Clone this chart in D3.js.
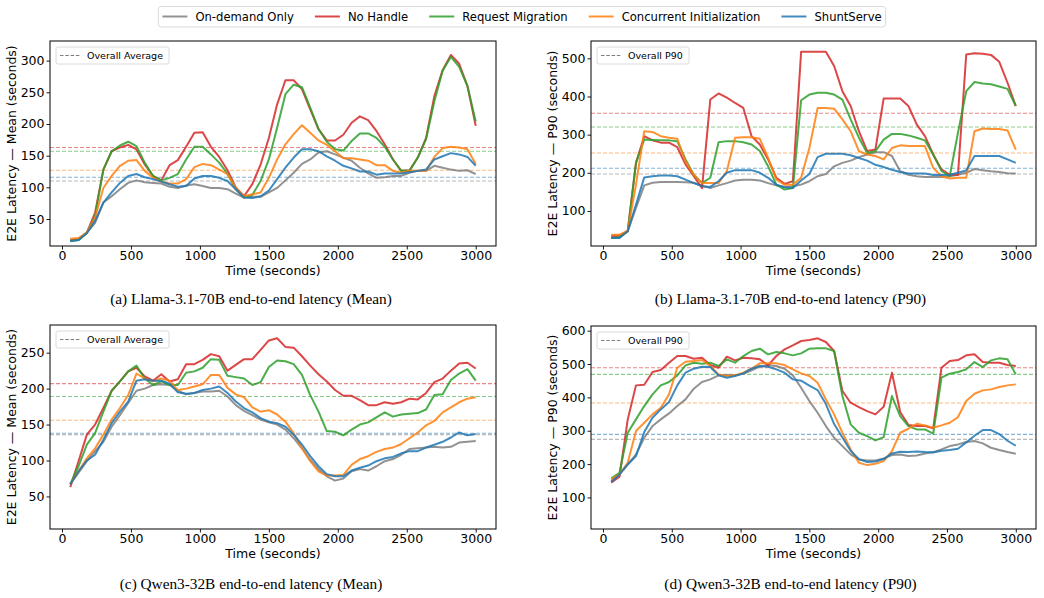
<!DOCTYPE html>
<html>
<head>
<meta charset="utf-8">
<script src="https://cdn.jsdelivr.net/npm/d3@7"></script>
<style>
  body { margin: 0; background: #fff; }
  svg { display: block; }
</style>
</head>
<body>
<div id="chart"></div>
<script>
// -------------------- Data --------------------
const times = [60, 120, 180, 240, 300, 360, 420, 480, 540, 600, 660, 720, 780, 840, 900, 960, 1020, 1080, 1140, 1200,
  1260, 1320, 1380, 1440, 1500, 1560, 1620, 1680, 1740, 1800, 1860, 1920, 1980, 2040, 2100, 2160, 2220, 2280, 2340, 2400,
  2460, 2520, 2580, 2640, 2700, 2760, 2820, 2880, 2940, 3000];

const seriesNames = ["On-demand Only", "No Handle", "Request Migration", "Concurrent Initialization", "ShuntServe"];
const seriesColors = ["#7f7f7f", "#d62728", "#2ca02c", "#ff7f0e", "#1f77b4"];

// (a) Llama-3.1-70B mean
const llamaMeanOnDemand = [16, 17, 28, 44, 76, 86, 97, 107, 111, 108, 107, 106, 101, 99, 103, 105, 102, 99, 99, 97,
  90, 84, 85, 85, 92, 99, 111, 123, 137, 144, 155, 157, 152, 147, 142, 131, 122, 115, 116, 118,
  118, 123, 126, 126, 134, 131, 128, 126, 127, 121];
const llamaMeanNoHandle = [17, 18, 28, 60, 128, 157, 163, 167, 160, 136, 118, 111, 135, 143, 164, 186, 187, 164, 148, 127,
  100, 86, 105, 136, 178, 231, 269, 269, 255, 223, 192, 174, 174, 183, 202, 212, 206, 189, 168, 144,
  126, 127, 147, 178, 244, 285, 309, 295, 260, 197];
const llamaMeanMigration = [16, 17, 28, 55, 128, 157, 166, 172, 165, 139, 118, 111, 115, 121, 144, 164, 164, 152, 139, 121,
  97, 84, 88, 110, 144, 194, 247, 262, 258, 226, 192, 172, 160, 158, 173, 185, 185, 178, 164, 144,
  126, 126, 147, 176, 236, 284, 306, 290, 260, 204];
const llamaMeanConcurrent = [19, 20, 29, 52, 99, 118, 134, 142, 143, 126, 115, 109, 106, 106, 113, 132, 137, 135, 128, 121,
  99, 86, 89, 92, 115, 144, 168, 184, 198, 186, 174, 167, 157, 146, 146, 144, 142, 135, 135, 126,
  123, 126, 126, 126, 148, 162, 164, 163, 160, 137];
const llamaMeanShunt = [15, 17, 28, 47, 76, 92, 107, 118, 121, 116, 113, 109, 105, 101, 102, 114, 118, 118, 115, 110,
  97, 84, 83, 86, 95, 113, 131, 147, 160, 160, 157, 149, 142, 134, 130, 125, 125, 120, 122, 122,
  122, 124, 126, 128, 144, 149, 154, 152, 148, 134];
const llamaMeanAvg = [110, 163, 157, 127, 116];

// (b) Llama-3.1-70B P90
const llamaP90OnDemand = [31, 31, 47, 108, 167, 174, 176, 176, 176, 175, 174, 166, 160, 167, 173, 180, 182, 182, 180, 173,
  167, 163, 165, 169, 178, 191, 197, 217, 226, 232, 241, 248, 254, 254, 244, 204, 195, 191, 189, 189,
  189, 191, 195, 200, 210, 207, 204, 202, 199, 198];
const llamaP90NoHandle = [35, 35, 48, 226, 296, 285, 279, 279, 267, 222, 191, 160, 392, 408, 397, 383, 370, 296, 274, 235,
  187, 171, 178, 517, 517, 517, 517, 480, 414, 375, 309, 257, 261, 395, 395, 395, 375, 327, 296, 248,
  209, 195, 195, 510, 513, 512, 509, 491, 436, 375];
const llamaP90Migration = [29, 31, 47, 226, 287, 286, 285, 285, 283, 235, 195, 173, 187, 280, 283, 283, 280, 274, 257, 217,
  169, 156, 160, 390, 405, 410, 410, 405, 392, 340, 292, 252, 257, 287, 302, 302, 298, 292, 285, 248,
  205, 191, 305, 414, 438, 434, 432, 426, 420, 375];
const llamaP90Concurrent = [38, 38, 48, 169, 309, 307, 296, 292, 289, 230, 195, 173, 173, 173, 204, 292, 293, 293, 289, 239,
  182, 169, 169, 187, 265, 370, 370, 368, 340, 309, 257, 248, 244, 235, 265, 272, 270, 270, 270, 213,
  191, 185, 187, 187, 309, 316, 315, 315, 311, 261];
const llamaP90Shunt = [29, 29, 47, 117, 188, 191, 193, 193, 191, 182, 173, 165, 163, 178, 200, 207, 207, 207, 200, 187,
  169, 162, 160, 180, 197, 241, 250, 250, 250, 246, 239, 232, 221, 215, 208, 202, 198, 198, 198, 194,
  194, 195, 200, 206, 244, 244, 244, 244, 235, 226];
const llamaP90Avg = [197, 356, 320, 252, 212];

// (c) Qwen3-32B mean
const qwenMeanOnDemand = [67, 83, 99, 113, 126, 147, 163, 180, 197, 200, 205, 206, 205, 197, 192, 194, 196, 196, 197, 189,
  177, 169, 163, 157, 153, 150, 143, 131, 117, 101, 88, 78, 72, 75, 85, 88, 86, 92, 99, 102,
  108, 116, 117, 118, 119, 118, 119, 125, 126, 127];
const qwenMeanNoHandle = [63, 99, 136, 150, 173, 197, 210, 224, 229, 217, 211, 220, 210, 213, 234, 234, 240, 248, 245, 225,
  233, 241, 241, 254, 267, 270, 258, 257, 245, 232, 220, 210, 198, 190, 190, 184, 177, 177, 181, 179,
  181, 186, 185, 194, 209, 214, 225, 235, 236, 228];
const qwenMeanMigration = [67, 92, 122, 138, 168, 197, 210, 224, 232, 214, 205, 210, 205, 205, 222, 224, 229, 241, 240, 218,
  216, 214, 205, 209, 230, 239, 238, 234, 219, 191, 168, 141, 140, 135, 143, 150, 153, 160, 167, 161,
  164, 165, 166, 171, 191, 192, 212, 221, 227, 211];
const qwenMeanConcurrent = [67, 85, 103, 117, 136, 157, 173, 191, 221, 214, 210, 214, 211, 198, 200, 203, 206, 219, 219, 201,
  192, 188, 174, 168, 170, 164, 154, 138, 117, 99, 85, 79, 79, 80, 94, 102, 106, 112, 116, 118,
  123, 131, 139, 149, 155, 167, 174, 181, 186, 188];
const qwenMeanShunt = [67, 85, 100, 108, 129, 152, 168, 182, 211, 213, 211, 211, 207, 195, 193, 194, 198, 200, 203, 194,
  182, 173, 167, 159, 154, 152, 147, 136, 122, 106, 92, 81, 78, 78, 86, 90, 93, 99, 103, 105,
  110, 113, 113, 118, 122, 126, 132, 139, 135, 137];
const qwenMeanAvg = [136, 207, 189, 156, 138];

// (d) Qwen3-32B P90
const qwenP90OnDemand = [149, 169, 199, 229, 279, 314, 334, 352, 374, 394, 426, 446, 454, 466, 467, 466, 471, 481, 492, 496,
  494, 486, 466, 429, 389, 354, 314, 279, 254, 229, 214, 211, 211, 217, 227, 229, 224, 226, 232, 236,
  244, 254, 259, 266, 269, 262, 249, 242, 236, 231];
const qwenP90NoHandle = [144, 162, 334, 436, 438, 476, 482, 504, 524, 524, 516, 519, 497, 489, 522, 511, 519, 517, 514, 496,
  524, 544, 556, 569, 572, 577, 566, 539, 419, 384, 371, 359, 349, 372, 474, 356, 317, 314, 314, 307,
  489, 509, 512, 526, 529, 506, 504, 504, 497, 494];
const qwenP90Migration = [157, 174, 294, 334, 374, 409, 436, 446, 466, 496, 504, 501, 504, 494, 514, 504, 524, 539, 546, 529,
  536, 532, 526, 532, 546, 547, 547, 539, 404, 319, 294, 284, 271, 281, 404, 344, 314, 304, 304, 291,
  459, 471, 476, 484, 506, 491, 511, 517, 514, 469];
const qwenP90Concurrent = [154, 169, 204, 299, 324, 349, 369, 409, 489, 507, 509, 512, 494, 469, 464, 466, 474, 486, 502, 502,
  502, 497, 484, 472, 464, 444, 394, 349, 294, 244, 204, 197, 201, 209, 239, 294, 306, 321, 316, 309,
  316, 324, 341, 389, 411, 421, 424, 431, 436, 439];
const qwenP90Shunt = [146, 169, 199, 224, 296, 339, 364, 386, 436, 474, 486, 492, 491, 466, 459, 464, 472, 486, 494, 492,
  484, 474, 454, 450, 435, 422, 380, 320, 280, 240, 215, 206, 208, 215, 232, 237, 236, 238, 236, 235,
  240, 242, 246, 265, 285, 302, 302, 290, 270, 255];
const qwenP90Avg = [274, 489, 469, 383, 289];

// -------------------- Panels --------------------
const panels = [
  { series: [llamaMeanOnDemand, llamaMeanNoHandle, llamaMeanMigration, llamaMeanConcurrent, llamaMeanShunt], avg: llamaMeanAvg,
    left: 50, right: 496, top: 41, bottom: 246, yDomain: [7.4, 331], yTicks: [50, 100, 150, 200, 250, 300],
    ylabel: "E2E Latency — Mean (seconds)", legend: "Overall Average", legendW: 113,
    caption: "(a) Llama-3.1-70B end-to-end latency (Mean)", captionY: 304 },
  { series: [llamaP90OnDemand, llamaP90NoHandle, llamaP90Migration, llamaP90Concurrent, llamaP90Shunt], avg: llamaP90Avg,
    left: 591, right: 1036, top: 41, bottom: 246, yDomain: [8.2, 545.4], yTicks: [100, 200, 300, 400, 500],
    ylabel: "E2E Latency — P90 (seconds)", legend: "Overall P90", legendW: 92,
    caption: "(b) Llama-3.1-70B end-to-end latency (P90)", captionY: 304 },
  { series: [qwenMeanOnDemand, qwenMeanNoHandle, qwenMeanMigration, qwenMeanConcurrent, qwenMeanShunt], avg: qwenMeanAvg,
    left: 50, right: 496, top: 325, bottom: 529, yDomain: [4.7, 288.5], yTicks: [50, 100, 150, 200, 250],
    ylabel: "E2E Latency — Mean (seconds)", legend: "Overall Average", legendW: 113,
    caption: "(c) Qwen3-32B end-to-end latency (Mean)", captionY: 589 },
  { series: [qwenP90OnDemand, qwenP90NoHandle, qwenP90Migration, qwenP90Concurrent, qwenP90Shunt], avg: qwenP90Avg,
    left: 591, right: 1036, top: 326, bottom: 529, yDomain: [5.4, 614], yTicks: [100, 200, 300, 400, 500, 600],
    ylabel: "E2E Latency — P90 (seconds)", legend: "Overall P90", legendW: 92,
    caption: "(d) Qwen3-32B end-to-end latency (P90)", captionY: 589 }
];

const xTicks = [0, 500, 1000, 1500, 2000, 2500, 3000];
const width = 1044, height = 598;
const sans = "'DejaVu Sans', sans-serif";
const fontSize = 12.5;

const svg = d3.select("#chart")
  .append("svg")
  .attr("width", width)
  .attr("height", height)
  .attr("viewBox", [0, 0, width, height]);

panels.forEach(p => {
  const x = d3.scaleLinear().domain([-87, 3147]).range([p.left, p.right]);
  const y = d3.scaleLinear().domain(p.yDomain).range([p.bottom, p.top]);
  const g = svg.append("g");

  // average lines
  p.avg.forEach((v, i) => {
    g.append("line")
      .attr("x1", p.left).attr("x2", p.right)
      .attr("y1", y(v)).attr("y2", y(v))
      .attr("stroke", seriesColors[i])
      .attr("stroke-opacity", 0.55)
      .attr("stroke-width", 1.1)
      .attr("stroke-dasharray", "4,2");
  });

  // series lines
  const line = d3.line().x((d, i) => x(times[i])).y(d => y(d));
  p.series.forEach((s, i) => {
    g.append("path")
      .datum(s)
      .attr("fill", "none")
      .attr("stroke", seriesColors[i])
      .attr("stroke-opacity", 0.85)
      .attr("stroke-width", 2)
      .attr("stroke-linejoin", "round")
      .attr("d", line);
  });

  // axes
  const xAxis = g.append("g")
    .attr("transform", `translate(0,${p.bottom})`)
    .call(d3.axisBottom(x).tickValues(xTicks).tickSize(3.5).tickPadding(1.5).tickFormat(d3.format("d")));
  const yAxis = g.append("g")
    .attr("transform", `translate(${p.left},0)`)
    .call(d3.axisLeft(y).tickValues(p.yTicks).tickSize(3.5).tickPadding(2).tickFormat(d3.format("d")));
  [xAxis, yAxis].forEach(a => {
    a.select(".domain").remove();
    a.selectAll("text").attr("font-family", sans).attr("font-size", fontSize).attr("fill", "#000");
    a.selectAll("line").attr("stroke", "#000").attr("stroke-width", 0.9);
  });

  // frame
  g.append("rect")
    .attr("x", p.left).attr("y", p.top)
    .attr("width", p.right - p.left).attr("height", p.bottom - p.top)
    .attr("fill", "none").attr("stroke", "#000").attr("stroke-width", 1);

  // axis labels
  g.append("text")
    .attr("x", (p.left + p.right) / 2)
    .attr("y", p.bottom + 29)
    .attr("text-anchor", "middle")
    .attr("font-family", sans).attr("font-size", fontSize)
    .text("Time (seconds)");
  g.append("text")
    .attr("transform", `translate(${p.left - 34},${(p.top + p.bottom) / 2}) rotate(-90)`)
    .attr("text-anchor", "middle")
    .attr("font-family", sans).attr("font-size", fontSize)
    .text(p.ylabel);

  // in-panel legend
  const lg = g.append("g").attr("transform", `translate(${p.left + 6},${p.top + 6})`);
  lg.append("rect")
    .attr("width", p.legendW).attr("height", 17).attr("rx", 2)
    .attr("fill", "#fff").attr("fill-opacity", 0.8)
    .attr("stroke", "#d0d0d0").attr("stroke-width", 0.8);
  lg.append("line")
    .attr("x1", 4).attr("x2", 25).attr("y1", 8.5).attr("y2", 8.5)
    .attr("stroke", "#7f7f7f").attr("stroke-width", 1)
    .attr("stroke-dasharray", "3.5,1.8");
  lg.append("text")
    .attr("x", 31).attr("y", 12)
    .attr("font-family", sans).attr("font-size", 9.5)
    .text(p.legend);

  // caption
  svg.append("text")
    .attr("x", (p.left + p.right) / 2 + (p.left < 300 ? -22 : -23))
    .attr("y", p.captionY)
    .attr("text-anchor", "middle")
    .attr("font-family", "'Liberation Serif', 'Times New Roman', serif")
    .attr("font-size", 15.3)
    .text(p.caption);
});

// -------------------- Top legend --------------------
const legend = svg.append("g");
const legendBox = legend.append("rect")
  .attr("y", 6.5).attr("height", 20.5).attr("rx", 3)
  .attr("fill", "#fff").attr("stroke", "#d0d0d0").attr("stroke-width", 0.8);
let cursor = 0;
const offsets = [];
seriesNames.forEach((name, i) => {
  const item = legend.append("g").attr("class", "item");
  item.append("line")
    .attr("x1", 0).attr("x2", 25).attr("y1", 16.5).attr("y2", 16.5)
    .attr("stroke", seriesColors[i]).attr("stroke-opacity", 0.85).attr("stroke-width", 2);
  const t = item.append("text")
    .attr("x", 33).attr("y", 20.5)
    .attr("font-family", sans).attr("font-size", 11.6)
    .text(name);
  offsets.push(cursor);
  cursor += 33 + t.node().getComputedTextLength() + 21;
});
const totalW = cursor - 21;
const startX = 522 - totalW / 2;
legend.selectAll("g.item").attr("transform", (d, i) => `translate(${startX + offsets[i]},0)`);
legendBox.attr("x", startX - 4).attr("width", totalW + 8);
</script>
</body>
</html>
